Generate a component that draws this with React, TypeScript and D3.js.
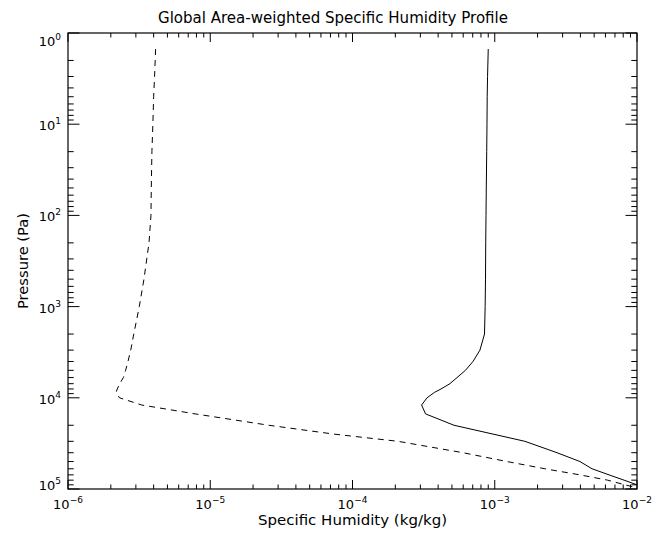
import { scaleLog, line } from 'd3'

const width = 664,
      height = 536,
      plot = { left: 68, right: 637, top: 33, bottom: 489 }

// pressure levels (Pa) and the two humidity profiles (kg/kg)
const pressure = [1.5, 3, 5, 10, 20, 50, 100, 200, 500, 1000, 2000, 3000, 4000, 5000, 6000, 7000,
  8000, 8700, 10000, 12000, 15000, 20000, 25000, 30000, 40000, 50000, 60000, 70000, 80000, 90000, 100000]

const humiditySolid = [9.0e-4, 8.9e-4, 8.85e-4, 8.82e-4, 8.78e-4, 8.72e-4, 8.68e-4, 8.64e-4, 8.61e-4,
  8.56e-4, 8.47e-4, 7.87e-4, 7.03e-4, 6.22e-4, 5.43e-4, 4.84e-4, 4.19e-4, 3.78e-4, 3.34e-4, 3.06e-4,
  3.26e-4, 5.17e-4, 9.72e-4, 1.63e-3, 2.74e-3, 3.97e-3, 4.83e-3, 6.36e-3, 8.11e-3, 1.0e-2, 1.21e-2]

const humidityDashed = [4.13e-6, 4.06e-6, 4.0e-6, 3.95e-6, 3.89e-6, 3.85e-6, 3.83e-6, 3.71e-6, 3.42e-6,
  3.17e-6, 2.90e-6, 2.76e-6, 2.64e-6, 2.54e-6, 2.45e-6, 2.31e-6, 2.22e-6, 2.18e-6, 2.30e-6, 3.30e-6,
  7.81e-6, 2.58e-5, 7.39e-5, 2.09e-4, 5.98e-4, 1.22e-3, 2.25e-3, 3.97e-3, 6.21e-3, 8.24e-3, 1.08e-2]

const xDomain = [1e-6, 1e-2],
      yDomain = [1, 1e5]

const titleText = 'Global Area-weighted Specific Humidity Profile',
      xTitle = 'Specific Humidity (kg/kg)',
      yTitle = 'Pressure (Pa)'

// thin strokes like the old Hershey font
const font = "'DejaVu Sans ExtraLight', 'DejaVu Sans', sans-serif"

export default function App() {
  const x = scaleLog().domain(xDomain).range([plot.left, plot.right])
  const y = scaleLog().domain(yDomain).range([plot.top, plot.bottom])

  const isMajor = (v: number) => Math.abs(Math.log10(v) - Math.round(Math.log10(v))) < 1e-9

  const xTicks = x.ticks()
  const yTicks = y.ticks()

  const drawLine = (vals: number[]) =>
    line<number>()
      .x(d => x(d))
      .y((d, i) => y(pressure[i]))(vals) as string

  const expLabel = (v: number) => String(Math.round(Math.log10(v))).replace('-', '\u2212')

  return (
    <svg width={width} height={height} style={{ position: 'absolute', left: 0, top: 0, background: '#fff' }}
      fontFamily={font}>
      <defs>
        <clipPath id='plotClip'>
          <rect x={plot.left} y={plot.top} width={plot.right - plot.left} height={plot.bottom - plot.top} />
        </clipPath>
      </defs>

      <text x={333} y={23} fontSize={15} textAnchor='middle' textLength={350} lengthAdjust='spacingAndGlyphs'>
        {titleText}
      </text>

      {/* data */}
      <g clipPath='url(#plotClip)' fill='none' stroke='#000' strokeWidth={1}>
        <path d={drawLine(humiditySolid)} />
        <path d={drawLine(humidityDashed)} strokeDasharray='6 5' />
      </g>

      {/* frame */}
      <rect x={plot.left} y={plot.top} width={plot.right - plot.left} height={plot.bottom - plot.top}
        fill='none' stroke='#000' strokeWidth={1.2} />

      {/* ticks on all four sides, pointing inward */}
      <g stroke='#000' strokeWidth={1}>
        {xTicks.map((t, i) => {
          const len = isMajor(t) ? 9 : 4.5
          const px = x(t)
          return (
            <g key={'xt' + i}>
              <line x1={px} x2={px} y1={plot.bottom} y2={plot.bottom - len} />
              <line x1={px} x2={px} y1={plot.top} y2={plot.top + len} />
            </g>
          )
        })}
        {yTicks.map((t, i) => {
          const len = isMajor(t) ? 11.5 : 5.7
          const py = y(t)
          return (
            <g key={'yt' + i}>
              <line x1={plot.left} x2={plot.left + len} y1={py} y2={py} />
              <line x1={plot.right} x2={plot.right - len} y1={py} y2={py} />
            </g>
          )
        })}
      </g>

      {/* tick labels */}
      <g fontSize={13} fill='#000'>
        {xTicks.filter(isMajor).map((t, i) => (
          <text key={'xl' + i} x={x(t)} y={509} textAnchor='middle'>
            10<tspan dy={-6} fontSize={9}>{expLabel(t)}</tspan>
          </text>
        ))}
        {yTicks.filter(isMajor).map((t, i) => {
          const base = Math.min(Math.max(y(t) + 6, plot.top + 13), plot.bottom + 1)
          return (
            <text key={'yl' + i} x={61} y={base} textAnchor='end'>
              10<tspan dy={-6} fontSize={9}>{expLabel(t)}</tspan>
            </text>
          )
        })}
      </g>

      {/* axis titles */}
      <text x={(plot.left + plot.right) / 2} y={525} fontSize={13.5} textAnchor='middle'
        textLength={189} lengthAdjust='spacingAndGlyphs'>
        {xTitle}
      </text>
      <text transform={`translate(28, ${(plot.top + plot.bottom) / 2}) rotate(-90)`} fontSize={14}
        textAnchor='middle' textLength={96} lengthAdjust='spacingAndGlyphs'>
        {yTitle}
      </text>
    </svg>
  )
}
